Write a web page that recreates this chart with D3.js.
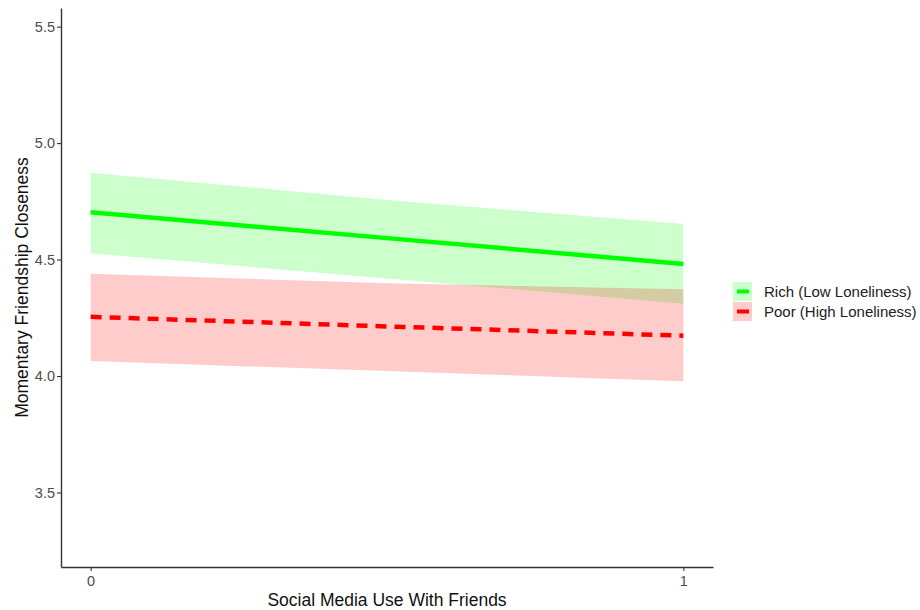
<!DOCTYPE html>
<html>
<head>
<meta charset="utf-8">
<script src="https://cdn.jsdelivr.net/npm/d3@7"></script>
<style>
    body { margin: 0; background: #fff; }
    svg text { font-family: "Liberation Sans", Arial, sans-serif; }
</style>
</head>
<body>
<div id="chart"></div>
<script>
// values
const xPoints = [0, 0.5, 1];
const groups = ["Rich (Low Loneliness)", "Poor (High Loneliness)"];
const richFit = [4.703, 4.592, 4.481];
const richLower = [4.527, 4.419, 4.31];
const richUpper = [4.873, 4.756, 4.653];
const poorFit = [4.254, 4.213, 4.173];
const poorLower = [4.064, 4.021, 3.977];
const poorUpper = [4.439, 4.398, 4.373];
const xTicks = [0, 1];
const yTicks = [3.5, 4.0, 4.5, 5.0, 5.5];

const width = 920, height = 610;
const panel = { left: 61, right: 713, top: 8, bottom: 567 };

const svg = d3.select("#chart").append("svg")
    .attr("width", width)
    .attr("height", height);

const x = d3.scaleLinear().domain([-0.05, 1.05]).range([panel.left, panel.right]);
const y = d3.scaleLinear().domain([3.18, 5.58]).range([panel.bottom, panel.top]);

const series = [
    { name: groups[0], fit: richFit, lower: richLower, upper: richUpper, color: "#00ff00", dash: null },
    { name: groups[1], fit: poorFit, lower: poorLower, upper: poorUpper, color: "#ff0000", dash: "11,8" }
];

const area = d3.area()
    .x((d, i) => x(xPoints[i]))
    .y0(d => y(d[0]))
    .y1(d => y(d[1]));

const line = d3.line()
    .x((d, i) => x(xPoints[i]))
    .y(d => y(d));

// ribbons first, then lines on top
series.forEach(s => {
    svg.append("path")
        .datum(s.lower.map((v, i) => [v, s.upper[i]]))
        .attr("d", area)
        .attr("fill", s.color)
        .attr("fill-opacity", 0.2);
});

series.forEach(s => {
    svg.append("path")
        .datum(s.fit)
        .attr("d", line)
        .attr("fill", "none")
        .attr("stroke", s.color)
        .attr("stroke-width", 4.5)
        .attr("stroke-dasharray", s.dash);
});

// axes
const xAxis = svg.append("g")
    .attr("transform", `translate(0,${panel.bottom})`)
    .call(d3.axisBottom(x).tickValues(xTicks).tickFormat(d3.format("d")).tickSize(4).tickSizeOuter(0));

const yAxis = svg.append("g")
    .attr("transform", `translate(${panel.left},0)`)
    .call(d3.axisLeft(y).tickValues(yTicks).tickFormat(d3.format(".1f")).tickSize(4).tickSizeOuter(0));

[xAxis, yAxis].forEach(a => {
    a.select(".domain").attr("stroke", "#333").attr("stroke-width", 1.4);
    a.selectAll(".tick line").attr("stroke", "#333").attr("stroke-width", 1.1);
    a.selectAll(".tick text").attr("fill", "#4d4d4d").attr("font-size", 14.5);
});
xAxis.selectAll(".tick text").attr("dy", "0.85em");
yAxis.selectAll(".tick text").attr("x", -6);

svg.append("text")
    .attr("x", (panel.left + panel.right) / 2)
    .attr("y", 606)
    .attr("text-anchor", "middle")
    .attr("font-size", 17.5)
    .attr("fill", "#111")
    .text("Social Media Use With Friends");

svg.append("text")
    .attr("transform", `translate(28,${(panel.top + panel.bottom) / 2}) rotate(-90)`)
    .attr("text-anchor", "middle")
    .attr("font-size", 17.5)
    .attr("fill", "#111")
    .text("Momentary Friendship Closeness");

// legend
const legend = svg.append("g").attr("transform", "translate(733,282)");
series.forEach((s, i) => {
    const row = legend.append("g").attr("transform", `translate(0,${i * 20})`);
    row.append("rect")
        .attr("width", 19).attr("height", 19)
        .attr("fill", s.color).attr("fill-opacity", 0.2);
    row.append("line")
        .attr("x1", 4).attr("x2", 16)
        .attr("y1", 9.5).attr("y2", 9.5)
        .attr("stroke", s.color).attr("stroke-width", 4);
    row.append("text")
        .attr("x", 31).attr("y", 9.5)
        .attr("dy", "0.35em")
        .attr("font-size", 15)
        .attr("fill", "#222")
        .text(s.name);
});
</script>
</body>
</html>
